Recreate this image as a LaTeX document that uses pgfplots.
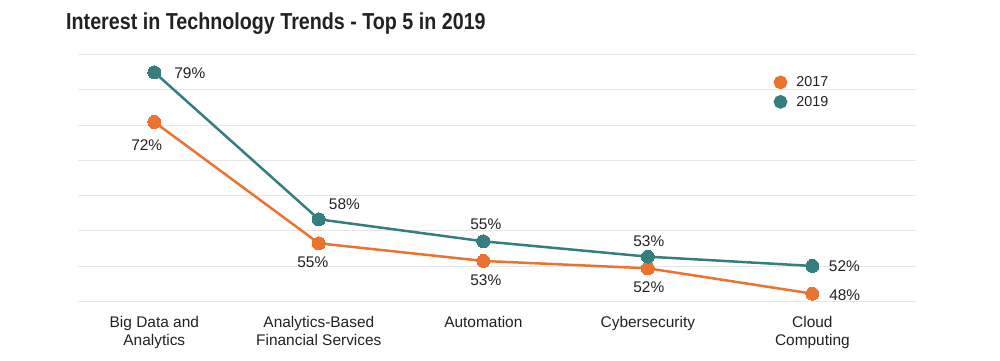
\documentclass[border=0pt]{standalone}
\usepackage{graphicx}
\usepackage{fontspec}
\setmainfont{Liberation Sans}
\usepackage{pgfplots}
\usepackage{pgfplotstable}
\pgfplotsset{compat=1.18}
\definecolor{cOrange}{HTML}{EB7330}
\definecolor{cTeal}{HTML}{357E80}
\definecolor{cGrid}{HTML}{E6E6E6}
\definecolor{cText}{HTML}{222222}

\pgfplotstableread{
x y lbl dx dy
0 72.04 72 -7.6 -23
1 55.05 55 -6 -19
2 52.58 53 2.5 -19.7
3 51.55 52 1 -19
4 48.00 48 32.4 -1.3
}\dataA
\pgfplotstableread{
x y lbl dx dy
0 79.00 79 35.5 -1
1 58.41 58 25.6 15
2 55.33 55 2.5 16.6
3 53.18 53 1 15.7
4 51.88 52 32 -0.7
}\dataB

\begin{document}
\begin{tikzpicture}
\useasboundingbox (0,0) rectangle (1000bp,361bp);
\node[anchor=base west, inner sep=0pt, text=cText] at (66bp,331.7bp)
  {\scalebox{0.852}[1]{\fontsize{23.2}{23}\selectfont\bfseries Interest in Technology Trends - Top 5 in 2019}};
\begin{axis}[
  /pgf/number format/assume math mode=true,
  at={(77.5bp,59.7bp)}, anchor=south west,
  width=838.5bp, height=246.6bp, scale only axis,
  xmin=-0.467, xmax=4.630,
  ymin=46.93, ymax=81.46,
  ytick={46.93,51.86,56.80,61.73,66.66,71.60,76.53,81.46},
  yticklabels={},
  ymajorgrids,
  major grid style={draw=cGrid, line width=1bp},
  axis line style={draw=none},
  major tick length=0pt,
  xtick={0,1,2,3,4},
  xticklabels={{Big Data and\\Analytics},{Analytics-Based\\Financial Services},{Automation},{Cybersecurity},{Cloud\\Computing}},
  xticklabel style={align=center, anchor=north, inner sep=0pt, yshift=-14.4bp,
    font=\fontsize{15.5}{18.3}\selectfont, text=cText},
  clip=false,
  legend cell align=left,
  legend style={draw=none, fill=none, at={(rel axis cs:0.830,0.92)}, anchor=north west,
    font=\fontsize{14.4}{17}\selectfont, text=cText, row sep=4bp,
    inner sep=0pt, /tikz/every odd column/.append style={column sep=7bp}},
  point meta=explicit,
  nodes near coords={\pgfmathprintnumber[fixed,precision=0,assume math mode=true]{\pgfplotspointmeta}\%},
  visualization depends on={\thisrow{dx} \as \dx},
  visualization depends on={\thisrow{dy} \as \dy},
  every node near coord/.style={anchor=center, inner sep=0pt, xshift=\dx bp, yshift=\dy bp,
    font=\fontsize{15.5}{18}\selectfont, text=cText},
]
\addplot[color=cOrange, line width=2.5bp, mark=*, mark size=6.5bp,
  mark options={fill=cOrange, draw=cOrange, line width=0pt},
  legend image code/.code={\fill[cOrange] (0.2cm,0cm) circle (5.6bp);}]
  table[x=x, y=y, meta=lbl] {\dataA};
\addlegendentry{2017}
\addplot[color=cTeal, line width=2.5bp, mark=*, mark size=6.5bp,
  mark options={fill=cTeal, draw=cTeal, line width=0pt},
  legend image code/.code={\fill[cTeal] (0.2cm,0cm) circle (5.6bp);}]
  table[x=x, y=y, meta=lbl] {\dataB};
\addlegendentry{2019}
\end{axis}
\end{tikzpicture}
\end{document}
